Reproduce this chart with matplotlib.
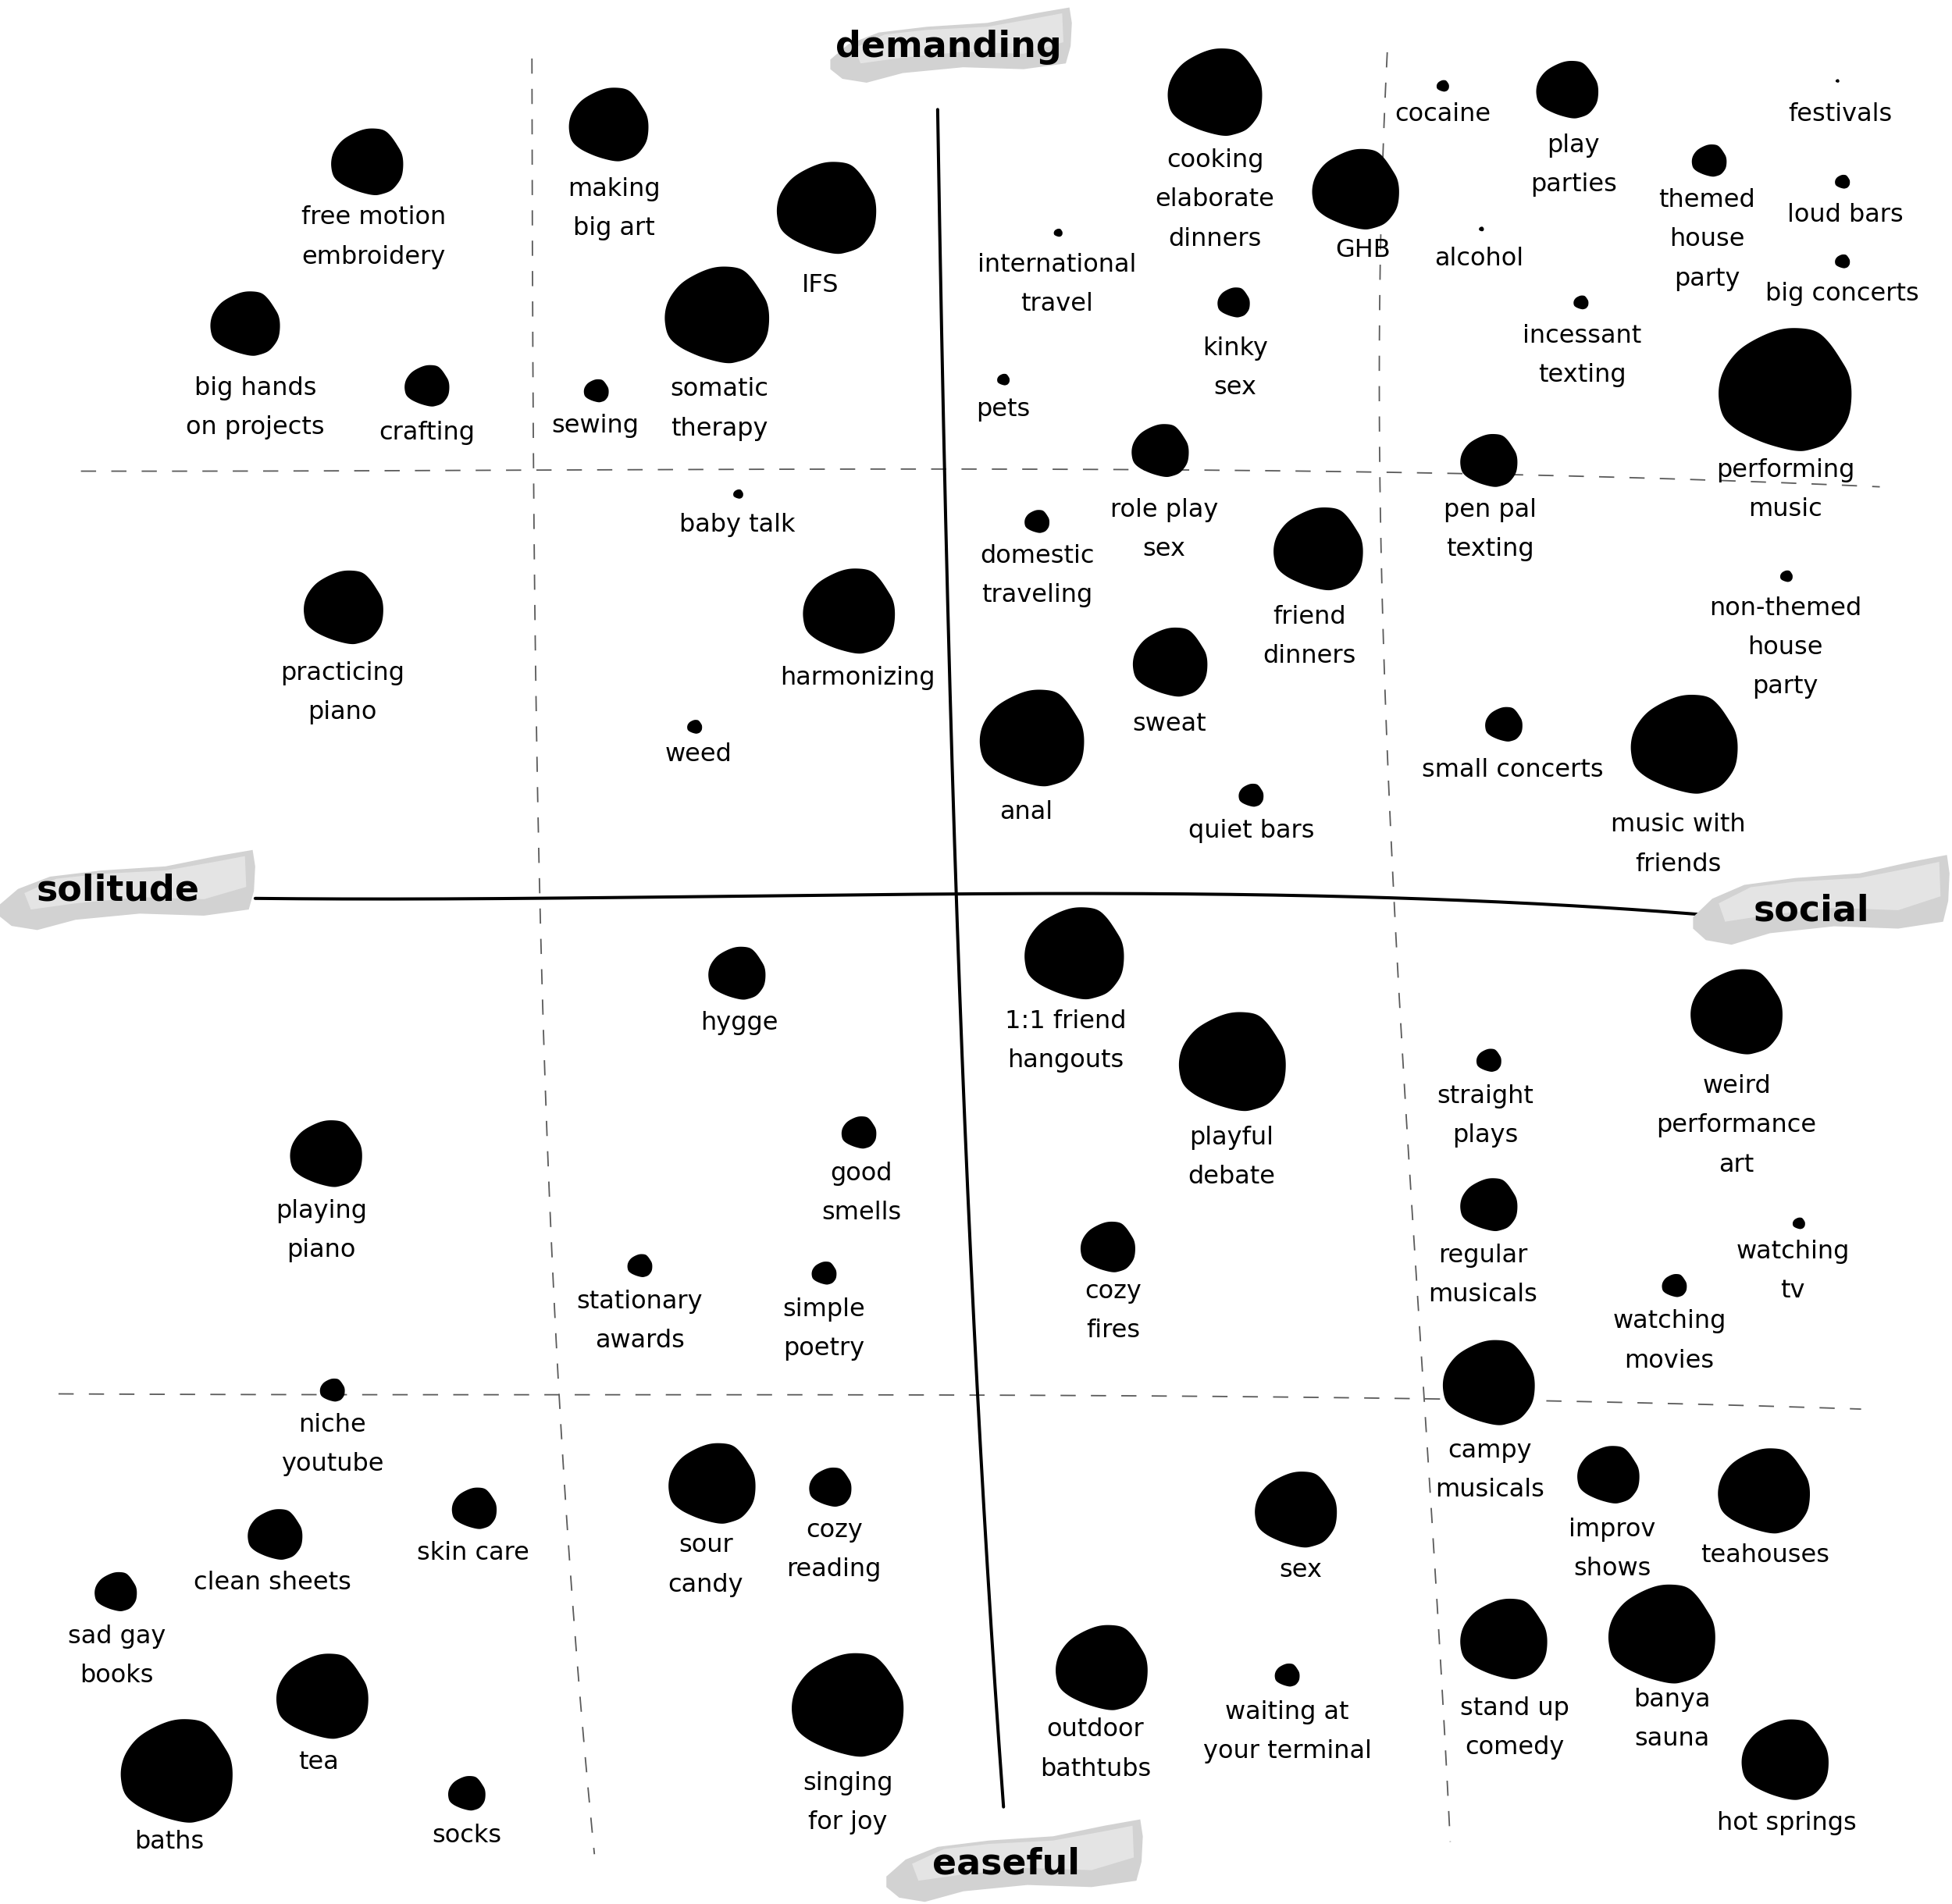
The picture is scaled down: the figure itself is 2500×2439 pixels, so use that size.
import numpy as np
import matplotlib
matplotlib.use("Agg")
import matplotlib.pyplot as plt
from matplotlib.path import Path
from matplotlib.markers import MarkerStyle

plt.rcParams['font.family'] = ['DejaVu Sans']
plt.rcParams['lines.scale_dashes'] = False

# ---------------- data (picture units: x = solitude -> social, y = demanding (top) -> easeful (bottom))
activities = [
    "free motion\nembroidery", "big hands\non projects", "crafting", "making\nbig art", "IFS",
    "somatic\ntherapy", "sewing", "baby talk", "practicing\npiano", "harmonizing", "weed",
    "cooking\nelaborate\ndinners", "GHB", "international\ntravel", "kinky\nsex", "pets",
    "role play\nsex", "domestic\ntraveling", "friend\ndinners", "sweat", "anal", "quiet bars",
    "cocaine", "play\nparties", "alcohol", "themed\nhouse\nparty", "festivals", "loud bars",
    "big concerts", "incessant\ntexting", "performing\nmusic", "pen pal\ntexting",
    "non-themed\nhouse\nparty", "small concerts", "music with\nfriends",
    "hygge", "playing\npiano", "good\nsmells", "stationary\nawards", "simple\npoetry",
    "niche\nyoutube", "clean sheets", "skin care", "sad gay\nbooks", "tea", "baths", "socks",
    "sour\ncandy", "cozy\nreading", "singing\nfor joy",
    "1:1 friend\nhangouts", "playful\ndebate", "cozy\nfires", "sex", "outdoor\nbathtubs",
    "waiting at\nyour terminal", "straight\nplays", "weird\nperformance\nart", "regular\nmusicals",
    "watching\ntv", "watching\nmovies", "campy\nmusicals", "improv\nshows", "teahouses",
    "stand up\ncomedy", "banya\nsauna", "hot springs",
]
sociality = [
    295, 197, 343, 489, 664, 576, 479, 593, 276, 682, 558,
    976, 1089, 850, 991, 806, 932, 833, 1059, 940, 829, 1005,
    1159, 1259, 1190, 1373, 1476, 1480, 1480, 1270, 1434, 1196, 1435, 1208, 1353,
    592, 262, 690, 514, 662, 267, 221, 381, 93, 259, 142, 375, 572, 667, 681,
    863, 990, 890, 1041, 885, 1034, 1196, 1395, 1196, 1445, 1345, 1196, 1292, 1417,
    1208, 1335, 1434,
]
demand = [
    130, 260, 310, 100, 167, 253, 314, 397, 488, 491, 584,
    74, 152, 187, 243, 305, 362, 419, 441, 532, 593, 639,
    69, 72, 184, 129, 65, 146, 210, 243, 313, 370, 463, 582, 598,
    782, 927, 910, 1017, 1023, 1117, 1233, 1212, 1279, 1363, 1423, 1441, 1192, 1195, 1370,
    766, 853, 1002, 1213, 1340, 1346, 852, 813, 968, 983, 1033, 1111, 1185, 1198,
    1317, 1313, 1414,
]
intensity = [
    58, 56, 36, 64, 80, 84, 20, 8, 64, 74, 12,
    76, 70, 7, 26, 10, 46, 20, 72, 60, 84, 20,
    10, 50, 4, 28, 3, 12, 12, 12, 107, 46, 10, 30, 86,
    46, 58, 28, 20, 20, 20, 44, 36, 34, 74, 90, 30, 70, 34, 90,
    80, 86, 44, 66, 74, 20, 20, 74, 46, 10, 20, 74, 50, 74,
    70, 86, 70,
]
axis_words = ["demanding", "solitude", "social", "easeful"]

# ---------------- layout (first-line anchor of each label)
label_xy = [
    (300, 175), (205, 312), (343, 348), (493, 152), (659, 229), (578, 313), (478, 342),
    (592, 422), (275, 541), (689, 545), (561, 606),
    (976, 129), (1095, 201), (849, 213), (992, 280), (806, 329), (935, 410), (833, 447),
    (1052, 496), (939, 582), (824, 653), (1005, 668),
    (1159, 92), (1264, 117), (1188, 208), (1371, 161), (1478, 92), (1482, 173), (1480, 236),
    (1271, 270), (1434, 378), (1197, 410), (1434, 489), (1215, 619), (1348, 663),
    (594, 822), (258, 973), (692, 943), (514, 1046), (662, 1052), (267, 1145), (219, 1272),
    (380, 1248), (94, 1315), (256, 1416), (136, 1480), (375, 1475), (567, 1242), (670, 1230),
    (681, 1433),
    (856, 821), (989, 914), (894, 1038), (1045, 1262), (880, 1390), (1034, 1376), (1193, 881),
    (1395, 873), (1191, 1009), (1440, 1006), (1341, 1062), (1197, 1166), (1295, 1229),
    (1418, 1250), (1217, 1373), (1343, 1366), (1435, 1465),
]
axis_brush = [  # center x, center y, width, height ; text center
    ((764, 37, 194, 62), (762, 38)),
    ((102, 716, 206, 66), (95, 716)),
    ((1463, 724, 206, 74), (1455, 732)),
    ((815, 1496, 206, 68), (808, 1498)),
]

W, H = 1568, 1530
fig = plt.figure(figsize=(25, 24.39), dpi=100)
ax = fig.add_axes([0, 0, 1, 1])
ax.set_xlim(0, W)
ax.set_ylim(H, 0)
ax.axis('off')

# ---------------- hand-drawn guide lines
def smooth(pts, vertical, n=200):
    p = np.array(pts, dtype=float)
    if vertical:
        c = np.polyfit(p[:, 1], p[:, 0], 3)
        t = np.linspace(p[0, 1], p[-1, 1], n)
        return np.polyval(c, t), t
    c = np.polyfit(p[:, 0], p[:, 1], 3)
    t = np.linspace(p[0, 0], p[-1, 0], n)
    return t, np.polyval(c, t)

dash_kw = dict(color='#5a5a5a', lw=1.3, dashes=(14, 14), zorder=1)
for pts, vert in [
    ([(428, 47), (426, 378), (437, 720), (447, 1120), (478, 1490)], True),
    ([(1117, 42), (1105, 200), (1107, 378), (1125, 720), (1140, 1120), (1166, 1480)], True),
    ([(65, 378), (427, 380), (760, 375), (1000, 376), (1230, 385), (1400, 387), (1510, 390)], False),
    ([(47, 1120), (440, 1121), (1100, 1122), (1230, 1127), (1495, 1132)], False),
]:
    xs, ys = smooth(pts, vert)
    ax.plot(xs, ys, **dash_kw)

solid_kw = dict(color='black', lw=2.9, solid_capstyle='round', zorder=2)
xs, ys = smooth([(205, 722), (500, 721), (780, 718), (1000, 720), (1200, 724),
                 (1300, 729), (1368, 736)], False)
ax.plot(xs, ys, **solid_kw)
xs, ys = smooth([(753, 88), (760, 400), (767, 720), (780, 1000), (806, 1452)], True)
ax.plot(xs, ys, **solid_kw)

# ---------------- blob marker
blob_pts = np.array([
    (0.19, 1.0), (0.49, 0.95), (0.70, 0.78), (0.91, 0.48), (1.04, 0.23), (1.08, -0.07),
    (1.04, -0.41), (0.91, -0.66), (0.70, -0.87), (0.40, -0.98), (0.19, -1.0), (-0.11, -0.94),
    (-0.44, -0.83), (-0.78, -0.66), (-1.0, -0.45), (-1.08, -0.15), (-1.06, 0.14),
    (-0.95, 0.40), (-0.74, 0.65), (-0.44, 0.84), (-0.11, 0.97)])

def catmull(P, n=8):
    out = []
    m = len(P)
    for i in range(m):
        p0, p1, p2, p3 = P[i - 1], P[i], P[(i + 1) % m], P[(i + 2) % m]
        for t in np.linspace(0, 1, n, endpoint=False):
            t2, t3 = t * t, t * t * t
            out.append(0.5 * ((2 * p1) + (-p0 + p2) * t + (2 * p0 - 5 * p1 + 4 * p2 - p3) * t2
                              + (-p0 + 3 * p1 - 3 * p2 + p3) * t3))
    out = np.array(out)
    return np.vstack([out, out[:1]])

verts = catmull(blob_pts)
codes = [Path.MOVETO] + [Path.LINETO] * (len(verts) - 2) + [Path.CLOSEPOLY]
blob = MarkerStyle(Path(verts, codes))

k = (2500 / W) * 0.72  # picture units -> points
sizes = (np.array(intensity) * k) ** 2
ax.scatter(sociality, demand, s=sizes, marker=blob, c='black', linewidths=0, zorder=3)

# ---------------- labels
for name, (lx, ly) in zip(activities, label_xy):
    for i, line in enumerate(name.split("\n")):
        ax.text(lx, ly + i * 31.5, line, ha='center', va='center', fontsize=23,
                color='black', zorder=4)

# ---------------- axis words on brush strokes
brush = np.array([
    (-1.0, -0.35), (-0.85, 0.05), (-0.6, 0.35), (-0.2, 0.5), (0.3, 0.6), (0.7, 0.85),
    (0.98, 1.0), (1.0, 0.6), (0.99, 0.0), (0.95, -0.45), (0.6, -0.6), (0.1, -0.55),
    (-0.4, -0.7), (-0.7, -0.95), (-0.9, -0.85), (-1.0, -0.6)])
inner = np.array([
    (-0.8, -0.05), (-0.55, 0.3), (-0.2, 0.42), (0.3, 0.5), (0.7, 0.72), (0.92, 0.85),
    (0.93, 0.1), (0.6, -0.2), (0.1, -0.15), (-0.4, -0.3), (-0.75, -0.45)])
for word, ((cx, cy, bw, bh), (tx, ty)) in zip(axis_words, axis_brush):
    ax.fill(cx + brush[:, 0] * bw / 2, cy - brush[:, 1] * bh / 2,
            color='#d2d2d2', lw=0, zorder=5)
    ax.fill(cx + inner[:, 0] * bw / 2, cy - inner[:, 1] * bh / 2,
            color='#e4e4e4', lw=0, zorder=5)
    ax.text(tx, ty, word, ha='center', va='center', fontsize=33, fontweight='bold',
            color='black', zorder=6)

fig.savefig("out.png", dpi=100, facecolor='white')
